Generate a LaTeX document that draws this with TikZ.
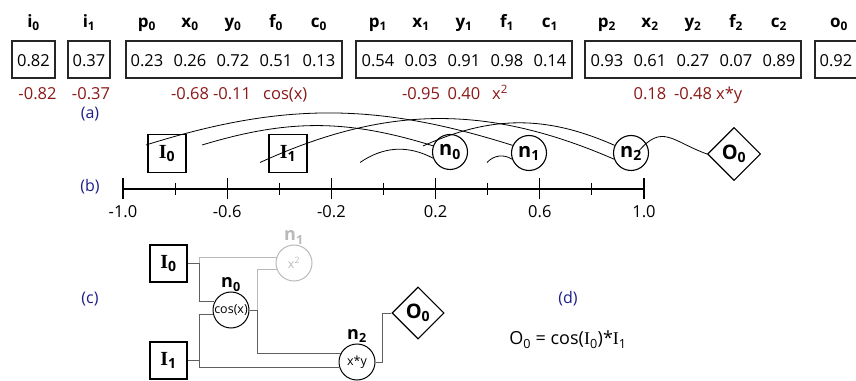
\documentclass[tikz,border=0pt]{standalone}
\usepackage{fontspec}
\setmainfont{Open Sans}
\newfontfamily\serifI{Liberation Serif}
\usetikzlibrary{shapes.geometric}
\definecolor{valred}{RGB}{140,24,24}
\definecolor{panelblue}{RGB}{28,28,140}
\definecolor{wiregray}{RGB}{95,95,95}
\definecolor{offgray}{RGB}{185,185,185}
\newcommand{\bI}{{\serifI\bfseries I}}
\begin{document}
\begin{tikzpicture}[x=1pt, y=1pt]
            % Define styles
            \tikzstyle{head} = [anchor=base, inner sep=0pt, font=\fontsize{17}{20}\selectfont\bfseries]
            \tikzstyle{val} = [anchor=base, inner sep=0pt, font=\fontsize{16.5}{20}\selectfont]
            \tikzstyle{fn} = [val, text=valred]
            \tikzstyle{panel} = [anchor=base, inner sep=0pt, text=panelblue, font=\fontsize{16}{20}\selectfont]
            \tikzstyle{genebox} = [rectangle, draw=black!85, line width=1.3pt, minimum height=37pt, inner sep=0pt]
            \tikzstyle{inbox} = [rectangle, draw, line width=1.3pt, minimum size=38pt, inner sep=0pt, font=\fontsize{20}{22}\selectfont\bfseries]
            \tikzstyle{fnode} = [circle, draw, line width=1.1pt, minimum size=35pt, inner sep=0pt, font=\fontsize{20}{22}\selectfont\bfseries]
            \tikzstyle{outnode} = [diamond, draw, line width=1.1pt, minimum width=53pt, minimum height=53pt, inner sep=0pt, font=\fontsize{20}{22}\selectfont\bfseries]
            \tikzstyle{gate} = [circle, draw, line width=1pt, minimum size=36pt, inner sep=0pt, font=\fontsize{12.5}{14}\selectfont]
            \tikzstyle{tag} = [anchor=base, inner sep=0pt, font=\fontsize{18}{20}\selectfont\bfseries]
            \tikzstyle{arc} = [line width=0.8pt]
            \tikzstyle{wire} = [draw=wiregray, line width=0.9pt]
            \tikzstyle{wireoff} = [draw=offgray, line width=0.9pt]

            \useasboundingbox (0,0) rectangle (856,380);
            \clip (0,0) rectangle (856,380);

            % (a) GENOME (top row)
            \node[genebox, minimum width=43pt] (inp0) at (33.5,320.5) {};
            \node[genebox, minimum width=42pt] (inp1) at (89,320.5) {};
            \node[genebox, minimum width=216pt] (gene0) at (234,320.5) {};
            \node[genebox, minimum width=216pt] (gene1) at (464,320.5) {};
            \node[genebox, minimum width=216pt] (gene2) at (693,320.5) {};
            \node[genebox, minimum width=43pt] (outp0) at (836.5,320.5) {};

            \node[head] (hi0) at (33.5,352) {i\textsubscript{0}};
            \node[val] (vi0) at (33.5,313.5) {0.82};
            \node[head] (hi1) at (89,352) {i\textsubscript{1}};
            \node[val] (vi1) at (89,313.5) {0.37};
            \foreach \h/\v [count=\k] in {p/0.23, x/0.26, y/0.72, f/0.51, c/0.13} {
                \node[head] (h0\k) at (104+43*\k,352) {\h\textsubscript{0}};
                \node[val] (v0\k) at (104+43*\k,313.5) {\v};
            }
            \foreach \h/\v [count=\k] in {p/0.54, x/0.03, y/0.91, f/0.98, c/0.14} {
                \node[head] (h1\k) at (335+43*\k,352) {\h\textsubscript{1}};
                \node[val] (v1\k) at (335+43*\k,313.5) {\v};
            }
            \foreach \h/\v [count=\k] in {p/0.93, x/0.61, y/0.27, f/0.07, c/0.89} {
                \node[head] (h2\k) at (564+43*\k,352) {\h\textsubscript{2}};
                \node[val] (v2\k) at (564+43*\k,313.5) {\v};
            }
            \node[head] (ho0) at (839,352) {o\textsubscript{0}};
            \node[val] (vo0) at (836,313.5) {0.92};

            % decoded values
            \node[fn] (ri0) at (37.5,280) {-0.82};
            \node[fn] (ri1) at (91,280) {-0.37};
            \node[fn] (rx0) at (190,280) {-0.68};
            \node[fn] (ry0) at (232,280) {-0.11};
            \node[fn, anchor=base west] (rf0) at (263,280) {cos(x)};
            \node[fn] (rx1) at (421,280) {-0.95};
            \node[fn] (ry1) at (464,280) {0.40};
            \node[fn, anchor=base west] (rf1) at (492,280) {x\textsuperscript{2}};
            \node[fn] (rx2) at (650,280) {0.18};
            \node[fn] (ry2) at (693,280) {-0.48};
            \node[fn, anchor=base west] (rf2) at (716,280) {x*y};

            \node[panel] (pa) at (90,261) {(a)};

            % (b) NUMBER LINE
            \node[panel] (pb) at (90,188) {(b)};
            \coordinate (axl) at (123,191);
            \coordinate (axr) at (644,191);
            \draw[line width=1.3pt] (axl) -- (axr);
            \foreach \t [count=\k] in {-1.0,-0.6,-0.2,0.2,0.6,1.0} {
                \draw[line width=1.1pt] (18.8+104.2*\k,180.5) -- ++(0,21);
                \node[val] (tk\k) at (18.8+104.2*\k,162) {\t};
            }
            \foreach \k in {0,...,4}
                \draw[line width=0.9pt] (175.1+104.2*\k,185) -- ++(0,12);

            \node[inbox] (I0b) at (167,226.5) {\bI\textsubscript{0}};
            \node[inbox] (I1b) at (288,226.5) {\bI\textsubscript{1}};
            \node[fnode] (n0b) at (450,228) {n\textsubscript{0}};
            \node[fnode] (n1b) at (529,227) {n\textsubscript{1}};
            \node[fnode] (n2b) at (631,227) {n\textsubscript{2}};
            \node[outnode] (O0b) at (734,226) {O\textsubscript{0}};

            \coordinate (s0x) at (202,235);
            \coordinate (s0y) at (360,217.5);
            \coordinate (s1x) at (146,235);
            \coordinate (s1y) at (487,217.5);
            \coordinate (s2x) at (423,234);
            \coordinate (s2y) at (260,217.5);

            \draw[arc] (s1x) to[bend left=17.5] (n1b.155);
            \draw[arc] (s0x) to[bend left=17] (n0b.160);
            \draw[arc] (s2y) to[bend left=24] (n2b.200);
            \draw[arc] (s2x) to[bend left=24] (n2b.155);
            \draw[arc] (s0y) to[bend left=31] (n0b.200);
            \draw[arc] (s1y) to[bend left=40] (n1b.200);
            \draw[arc] ([shift={(7pt,1pt)}]n2b.center) to[out=50, in=160, looseness=1.4] (O0b.west);

            % (c) GRAPH
            \node[panel] (pc) at (90,76) {(c)};
            \node[inbox, minimum size=37pt] (I0c) at (168.5,116.5) {\bI\textsubscript{0}};
            \node[inbox, minimum size=37pt] (I1c) at (168.5,19.5) {\bI\textsubscript{1}};
            \node[gate] (n0c) at (231,70) {cos(x)};
            \node[gate, draw=offgray, text=offgray] (n1c) at (294,117) {x\textsuperscript{2}};
            \node[gate] (n2c) at (357,18) {x*y};
            \node[outnode, minimum width=52pt, minimum height=52pt] (O0c) at (418,67) {O\textsubscript{0}};
            \node[tag] (l0c) at (231,92) {n\textsubscript{0}};
            \node[tag, text=offgray] (l1c) at (294,139) {n\textsubscript{1}};
            \node[tag] (l2c) at (357,41) {n\textsubscript{2}};

            \draw[wireoff] ([xshift=12pt]I0c.east) |- (n1c.161);
            \draw[wireoff] ([xshift=8pt]n0c.east) |- (n1c.202);
            \draw[wire] (I0c.east) -- ++(12,0) |- (n0c.154);
            \draw[wire] (I1c.east) -- ++(12,0) |- (n0c.193);
            \draw[wire] (I1c.east) -- ++(12,0) |- (n2c.198);
            \draw[wire] (n0c.east) -- ++(8,0) |- (n2c.152);
            \draw[wire] (n2c.east) -- ++(7,0) |- (O0c.west);

            % (d) EXPRESSION
            \node[panel] (pd) at (568,76) {(d)};
            \node[anchor=base, inner sep=0pt, font=\fontsize{18}{20}\selectfont] (eq) at (568,35) {O\textsubscript{0} = cos({\serifI I}\textsubscript{0})*{\serifI I}\textsubscript{1}};

      \end{tikzpicture}
\end{document}
